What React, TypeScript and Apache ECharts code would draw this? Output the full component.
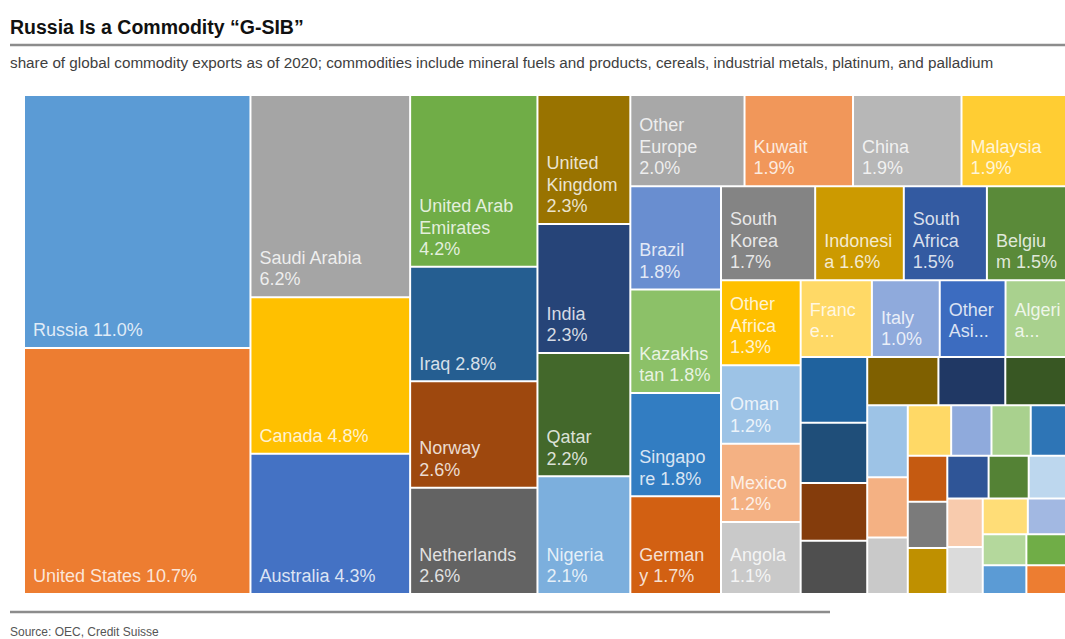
import { useEffect, useRef } from 'react';
import * as echarts from 'echarts';

// Labelled countries (and the first unlabelled blocks), in layout order
const names = [
  'Russia', 'United States', 'Saudi Arabia', 'Canada', 'Australia',
  'United Arab Emirates', 'Iraq', 'Norway', 'Netherlands',
  'United Kingdom', 'India', 'Qatar', 'Nigeria',
  'Other Europe', 'Kuwait', 'China', 'Malaysia',
  'Brazil', 'Kazakhstan', 'Singapore', 'Germany',
  'South Korea', 'Indonesia', 'South Africa', 'Belgium',
  'Other Africa', 'Oman', 'Mexico', 'Angola',
  'France', 'Italy', 'Other Asia', 'Algeria',
  '', '', '', '',
  '', '', '',
];

// share of global commodity exports, %
const values = [
  11.0, 10.7, 6.2, 4.8, 4.3,
  4.2, 2.8, 2.6, 2.6,
  2.3, 2.3, 2.2, 2.1,
  2.0, 1.9, 1.9, 1.9,
  1.8, 1.8, 1.8, 1.7,
  1.7, 1.6, 1.5, 1.5,
  1.3, 1.2, 1.2, 1.1,
  1.05, 1.0, 0.97, 0.95,
  0.84, 0.77, 0.74, 0.68,
  0.66, 0.62, 0.6,
];

const labelTexts = [
  'Russia 11.0%', 'United States 10.7%', 'Saudi Arabia\n6.2%', 'Canada 4.8%', 'Australia 4.3%',
  'United Arab\nEmirates\n4.2%', 'Iraq 2.8%', 'Norway\n2.6%', 'Netherlands\n2.6%',
  'United\nKingdom\n2.3%', 'India\n2.3%', 'Qatar\n2.2%', 'Nigeria\n2.1%',
  'Other\nEurope\n2.0%', 'Kuwait\n1.9%', 'China\n1.9%', 'Malaysia\n1.9%',
  'Brazil\n1.8%', 'Kazakhs\ntan 1.8%', 'Singapo\nre 1.8%', 'German\ny 1.7%',
  'South\nKorea\n1.7%', 'Indonesi\na 1.6%', 'South\nAfrica\n1.5%', 'Belgiu\nm 1.5%',
  'Other\nAfrica\n1.3%', 'Oman\n1.2%', 'Mexico\n1.2%', 'Angola\n1.1%',
  'Franc\ne...', 'Italy\n1.0%', 'Other\nAsi...', 'Algeri\na...',
];

const colors = [
  '#5B9BD5', '#ED7D31', '#A5A5A5', '#FFC000', '#4472C4',
  '#70AD47', '#255E91', '#9E480E', '#636363',
  '#997300', '#264478', '#43682B', '#7CAFDD',
  '#A8A8A8', '#F1975A', '#B7B7B7', '#FFCD33',
  '#698ED0', '#8CC168', '#327DC2', '#D26012',
  '#848484', '#CC9A00', '#335AA1', '#5A8A39',
  '#FFC000', '#9DC3E6', '#F4B183', '#C9C9C9',
  '#FFD966', '#8FAADC', '#3C6CC0', '#A9D18E',
  '#1F629E', '#1F4E79', '#843C0C', '#4F4F4F',
  '#7F6000', '#203864', '#385723',
];

// Smallest unlabelled exporters, grouped in the strips the reference draws them in
const tailValues = [
  [0.56, 0.47, 0.44],
  [0.42, 0.39, 0.38, 0.38],
  [0.35, 0.35, 0.35],
  [0.34, 0.33, 0.34],
  [0.33, 0.32],
  [0.31, 0.29],
  [0.26, 0.24],
  [0.26, 0.24],
];
const tailColors = [
  ['#9DC3E6', '#F4B183', '#C9C9C9'],
  ['#FFD966', '#8FAADC', '#A9D18E', '#2E75B6'],
  ['#C55A11', '#7B7B7B', '#BF9000'],
  ['#2F5597', '#548235', '#BDD7EE'],
  ['#F8CBAD', '#DBDBDB'],
  ['#FFDD77', '#A2B8E2'],
  ['#B4D89C', '#5B9BD5'],
  ['#70AD47', '#ED7D31'],
];

const title = 'Russia Is a Commodity \u201cG-SIB\u201d';
const subtitle = 'share of global commodity exports as of 2020; commodities include mineral fuels and products, cereals, industrial metals, platinum, and palladium';
const source = 'Source: OEC, Credit Suisse';

const FONT = '"Liberation Sans", Arial, Helvetica, sans-serif';

const groupStyle = { borderWidth: 0, gapWidth: 0, color: '#ffffff', borderColor: '#ffffff' };

function buildTail(i: number): any {
  const strip = {
    name: '',
    itemStyle: groupStyle,
    label: { show: false },
    children: tailValues[i].map((v, j) => ({
      name: '',
      value: v,
      itemStyle: { color: tailColors[i][j] },
      label: { show: false },
    })),
  };
  if (i === tailValues.length - 1) return strip;
  return {
    name: '',
    itemStyle: groupStyle,
    label: { show: false },
    children: [strip, buildTail(i + 1)],
  };
}

export default function App() {
  const ref = useRef<HTMLDivElement>(null);
  useEffect(() => {
    if (!ref.current) return;
    const chart = echarts.init(ref.current, null, { renderer: 'svg' });
    const data: any[] = values.map((v, i) => {
      const txt = labelTexts[i];
      const truncated = txt && txt.endsWith('...');
      return {
        name: names[i],
        value: v,
        itemStyle: { color: colors[i] },
        label: txt
          ? (truncated
            ? { show: true, formatter: txt, padding: [0, 2, 14, 8] }
            : { show: true, formatter: txt })
          : { show: false },
      };
    });
    data.push(buildTail(0));
    chart.setOption({
      animation: false,
      backgroundColor: '#ffffff',
      graphic: [
        {
          type: 'text', left: 10, top: 17,
          style: { text: title, font: `bold 19.5px ${FONT}`, fill: '#111' },
        },
        {
          type: 'line', shape: { x1: 10, y1: 45, x2: 1065, y2: 45 },
          style: { stroke: '#8c8c8c', lineWidth: 2.5 },
        },
        {
          type: 'text', left: 10, top: 55,
          style: { text: subtitle, font: `15.25px ${FONT}`, fill: '#404040' },
        },
        {
          type: 'line', shape: { x1: 10, y1: 612, x2: 830, y2: 612 },
          style: { stroke: '#8c8c8c', lineWidth: 2.5 },
        },
        {
          type: 'text', left: 10, top: 626,
          style: { text: source, font: `12px ${FONT}`, fill: '#555' },
        },
      ],
      series: [
        {
          type: 'treemap',
          left: 24,
          top: 95,
          width: 1046,
          height: 499,
          sort: false,
          squareRatio: 0.91,
          roam: false,
          nodeClick: false,
          silent: true,
          breadcrumb: { show: false },
          visibleMin: 0,
          label: {
            show: true,
            position: 'insideBottomLeft',
            distance: 0,
            padding: [0, 2, 6, 8],
            color: 'rgba(255,255,255,0.82)',
            fontFamily: FONT,
            fontSize: 18,
            lineHeight: 21.5,
            overflow: 'truncate',
          },
          upperLabel: { show: false },
          itemStyle: { borderWidth: 1, borderColor: '#ffffff', gapWidth: 0 },
          levels: [
            { itemStyle: { borderWidth: 0, gapWidth: 0, borderColor: '#ffffff' } },
          ],
          data,
        },
      ],
    });
    return () => chart.dispose();
  }, []);
  return (
    <div
      ref={ref}
      style={{ position: 'absolute', left: 0, top: 0, width: 1065, height: 639 }}
    />
  );
}
